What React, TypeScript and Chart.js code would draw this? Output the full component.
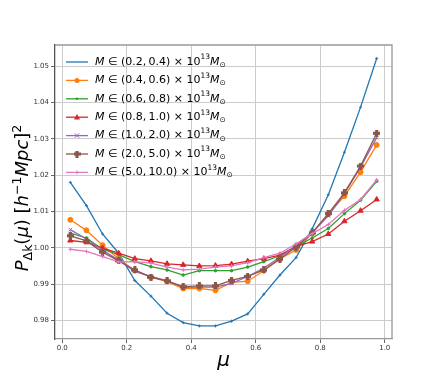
import React, { useEffect, useRef } from "react";
import { Chart, registerables } from "chart.js";

Chart.register(...registerables);

const mu = [0.025, 0.075, 0.125, 0.175, 0.225, 0.275, 0.325, 0.375, 0.425, 0.475, 0.525, 0.575, 0.625, 0.675, 0.725, 0.775, 0.825, 0.875, 0.925, 0.975];

const labels = ["(0.2,\u20090.4)", "(0.4,\u20090.6)", "(0.6,\u20090.8)", "(0.8,\u20091.0)", "(1.0,\u20092.0)", "(2.0,\u20095.0)", "(5.0,\u200910.0)"];

const s1 = [1.0180, 1.0116, 1.0038, 0.9985, 0.9910, 0.9867, 0.9820, 0.9794, 0.9785, 0.9785, 0.9798, 0.9818, 0.9872, 0.9925, 0.9973, 1.0052, 1.0146, 1.0263, 1.0387, 1.0521];
const s2 = [1.0077, 1.0048, 1.0007, 0.9970, 0.9937, 0.9919, 0.9907, 0.9888, 0.9888, 0.9883, 0.9905, 0.9908, 0.9937, 0.9969, 0.9994, 1.0040, 1.0093, 1.0142, 1.0208, 1.0283];
const s3 = [1.0040, 1.0027, 0.9996, 0.9981, 0.9962, 0.9948, 0.9939, 0.9925, 0.9937, 0.9937, 0.9937, 0.9947, 0.9962, 0.9978, 1.0004, 1.0027, 1.0053, 1.0094, 1.0131, 1.0183];
const s4 = [1.0020, 1.0015, 0.9999, 0.9985, 0.9970, 0.9964, 0.9956, 0.9953, 0.9950, 0.9951, 0.9955, 0.9963, 0.9970, 0.9980, 1.0004, 1.0017, 1.0038, 1.0073, 1.0102, 1.0133];
const s5 = [1.0050, 1.0024, 0.9994, 0.9966, 0.9935, 0.9921, 0.9909, 0.9891, 0.9892, 0.9892, 0.9902, 0.9921, 0.9944, 0.9974, 1.0006, 1.0042, 1.0088, 1.0149, 1.0222, 1.0303];
const s6 = [1.0033, 1.0019, 0.9988, 0.9964, 0.9939, 0.9919, 0.9909, 0.9893, 0.9895, 0.9895, 0.9910, 0.9921, 0.9939, 0.9969, 1.0002, 1.0041, 1.0094, 1.0151, 1.0225, 1.0315];
const s7 = [0.9996, 0.9990, 0.9976, 0.9961, 0.9962, 0.9958, 0.9947, 0.9939, 0.9941, 0.9947, 0.9950, 0.9959, 0.9973, 0.9985, 1.0011, 1.0039, 1.0064, 1.0103, 1.0133, 1.0187];

const series = [s1, s2, s3, s4, s5, s6, s7];
const colors = ["#1f77b4", "#ff7f0e", "#2ca02c", "#d62728", "#9467bd", "#8c564b", "#e377c2"];

const xTicks = [0.0, 0.2, 0.4, 0.6, 0.8, 1.0];
const yTicks = [0.98, 0.99, 1.0, 1.01, 1.02, 1.03, 1.04, 1.05];

const FONT = '"DejaVu Sans"';

type Seg = { t: string; it?: boolean; sz: number; dy?: number };

function richWidth(ctx: CanvasRenderingContext2D, segs: Seg[]) {
  let w = 0;
  for (const s of segs) {
    ctx.font = `${s.it ? "italic " : ""}${s.sz}px ${FONT}`;
    w += ctx.measureText(s.t).width;
  }
  return w;
}

function drawRich(ctx: CanvasRenderingContext2D, segs: Seg[], x: number, y: number) {
  for (const s of segs) {
    ctx.font = `${s.it ? "italic " : ""}${s.sz}px ${FONT}`;
    ctx.fillText(s.t, x, y + (s.dy || 0));
    x += ctx.measureText(s.t).width;
  }
}

function makePlus(color: string, size: number) {
  const c = document.createElement("canvas");
  c.width = size;
  c.height = size;
  const g = c.getContext("2d")!;
  g.fillStyle = color;
  const a = size * 0.45;
  const o = (size - a) / 2;
  g.fillRect(o, 0, a, size);
  g.fillRect(0, o, size, a);
  return c;
}

function drawMarker(ctx: CanvasRenderingContext2D, i: number, x: number, y: number, plus: HTMLCanvasElement) {
  const c = colors[i];
  ctx.save();
  ctx.fillStyle = c;
  ctx.strokeStyle = c;
  ctx.lineWidth = 1;
  ctx.beginPath();
  if (i === 1) {
    ctx.arc(x, y, 2.5, 0, Math.PI * 2);
    ctx.fill();
  } else if (i === 2) {
    ctx.arc(x, y, 1.3, 0, Math.PI * 2);
    ctx.fill();
  } else if (i === 3) {
    ctx.moveTo(x, y - 3.2);
    ctx.lineTo(x + 3, y + 2.2);
    ctx.lineTo(x - 3, y + 2.2);
    ctx.closePath();
    ctx.fill();
  } else if (i === 4) {
    ctx.moveTo(x - 2.2, y - 2.2);
    ctx.lineTo(x + 2.2, y + 2.2);
    ctx.moveTo(x + 2.2, y - 2.2);
    ctx.lineTo(x - 2.2, y + 2.2);
    ctx.stroke();
  } else if (i === 5) {
    ctx.drawImage(plus, x - plus.width / 2, y - plus.height / 2);
  } else if (i === 6) {
    ctx.moveTo(x - 2, y);
    ctx.lineTo(x + 2, y);
    ctx.moveTo(x, y - 2);
    ctx.lineTo(x, y + 2);
    ctx.stroke();
  }
  ctx.restore();
}

export default function App() {
  const ref = useRef<HTMLCanvasElement | null>(null);

  useEffect(() => {
    const canvas = ref.current!;
    const plus = makePlus(colors[5], 7);

    const pointStyles: any[] = ["cross", "circle", "circle", "triangle", "crossRot", plus, "cross"];
    const radii = [1.5, 2.5, 1.3, 3, 2.5, 3.5, 2];

    const datasets = series.map((s, i) => ({
      label: labels[i],
      data: s.map((v, j) => ({ x: mu[j], y: v })),
      borderColor: colors[i],
      backgroundColor: colors[i],
      pointBackgroundColor: colors[i],
      pointBorderColor: colors[i],
      pointBorderWidth: 1,
      pointStyle: pointStyles[i],
      pointRadius: radii[i],
      borderWidth: 1.3,
      tension: 0,
      fill: false,
      order: 6 - i,
    }));

    const overlay = {
      id: "overlay",
      afterDraw(chart: any) {
        const ctx: CanvasRenderingContext2D = chart.ctx;
        const a = chart.chartArea;
        ctx.save();
        ctx.strokeStyle = "#999999";
        ctx.lineWidth = 1.3;
        ctx.beginPath();
        ctx.moveTo(a.left, a.top);
        ctx.lineTo(a.right, a.top);
        ctx.lineTo(a.right, a.bottom);
        ctx.stroke();

        ctx.fillStyle = "#000";
        ctx.textBaseline = "middle";
        ctx.textAlign = "left";
        const lx0 = 66, lx1 = 88, tx = 95;
        for (let i = 0; i < series.length; i++) {
          const y = 62 + i * 18.4;
          ctx.strokeStyle = colors[i];
          ctx.lineWidth = 1.3;
          ctx.beginPath();
          ctx.moveTo(lx0, y);
          ctx.lineTo(lx1, y);
          ctx.stroke();
          drawMarker(ctx, i, (lx0 + lx1) / 2, y, plus);
          ctx.fillStyle = "#000";
          const segs: Seg[] = [
            { t: "M", it: true, sz: 11 },
            { t: " \u2208 " + labels[i] + " \u00d7 10", sz: 11 },
            { t: "13", sz: 7.5, dy: -4.5 },
            { t: "M", it: true, sz: 11 },
            { t: "\u2299", sz: 7.5, dy: 3 },
          ];
          drawRich(ctx, segs, tx, y);
        }

        ctx.textBaseline = "alphabetic";
        ctx.font = `italic 20px ${FONT}`;
        ctx.textAlign = "center";
        ctx.fillText("\u03bc", (a.left + a.right) / 2, 366);

        ctx.textAlign = "left";
        const ys: Seg[] = [
          { t: "P", it: true, sz: 18 },
          { t: "\u0394k", sz: 12.5, dy: 4 },
          { t: "(", sz: 18 },
          { t: "\u03bc", it: true, sz: 18 },
          { t: ")", sz: 18 },
          { t: " [", sz: 18 },
          { t: "h", it: true, sz: 18 },
          { t: "\u22121", sz: 12.5, dy: -7 },
          { t: "Mpc", it: true, sz: 18 },
          { t: "]", sz: 18 },
          { t: "2", sz: 12.5, dy: -7 },
        ];
        const w = richWidth(ctx, ys);
        ctx.translate(28, 198);
        ctx.rotate(-Math.PI / 2);
        drawRich(ctx, ys, -w / 2, 0);
        ctx.restore();
      },
    };

    const chart = new Chart(canvas, {
      type: "line",
      data: { datasets },
      options: {
        animation: false,
        responsive: false,
        devicePixelRatio: 1,
        layout: { padding: { left: 0, top: 45, right: 44, bottom: 27 } },
        plugins: { legend: { display: false }, tooltip: { enabled: false } },
        scales: {
          x: {
            type: "linear",
            min: -0.0225,
            max: 1.0225,
            afterFit: (s: any) => { s.height = 16; },
            afterBuildTicks: (s: any) => { s.ticks = xTicks.map((v) => ({ value: v })); },
            ticks: {
              font: { family: "DejaVu Sans", size: 7 },
              color: "#333",
              padding: 1,
              maxRotation: 0,
              callback: (v: any) => Number(v).toFixed(1),
            },
            grid: { color: "#cccccc", lineWidth: 1, tickLength: 4, tickColor: "#666" },
            border: { color: "#999999", width: 1.3 },
          },
          y: {
            type: "linear",
            min: 0.9749,
            max: 1.0558,
            afterFit: (s: any) => { s.width = 55; },
            afterBuildTicks: (s: any) => { s.ticks = yTicks.map((v) => ({ value: v })); },
            ticks: {
              font: { family: "DejaVu Sans", size: 7 },
              color: "#333",
              padding: 2,
              callback: (v: any) => Number(v).toFixed(2),
            },
            grid: { color: "#cccccc", lineWidth: 1, tickLength: 4, tickColor: "#666" },
            border: { color: "#555555", width: 1.3 },
          },
        },
      },
      plugins: [overlay],
    });
    return () => chart.destroy();
  }, []);

  return (
    <div style={{ position: "fixed", left: 0, top: 0, width: 436, height: 382, background: "#fff" }}>
      <canvas ref={ref} width={436} height={382} style={{ display: "block", width: 436, height: 382 }} />
    </div>
  );
}
